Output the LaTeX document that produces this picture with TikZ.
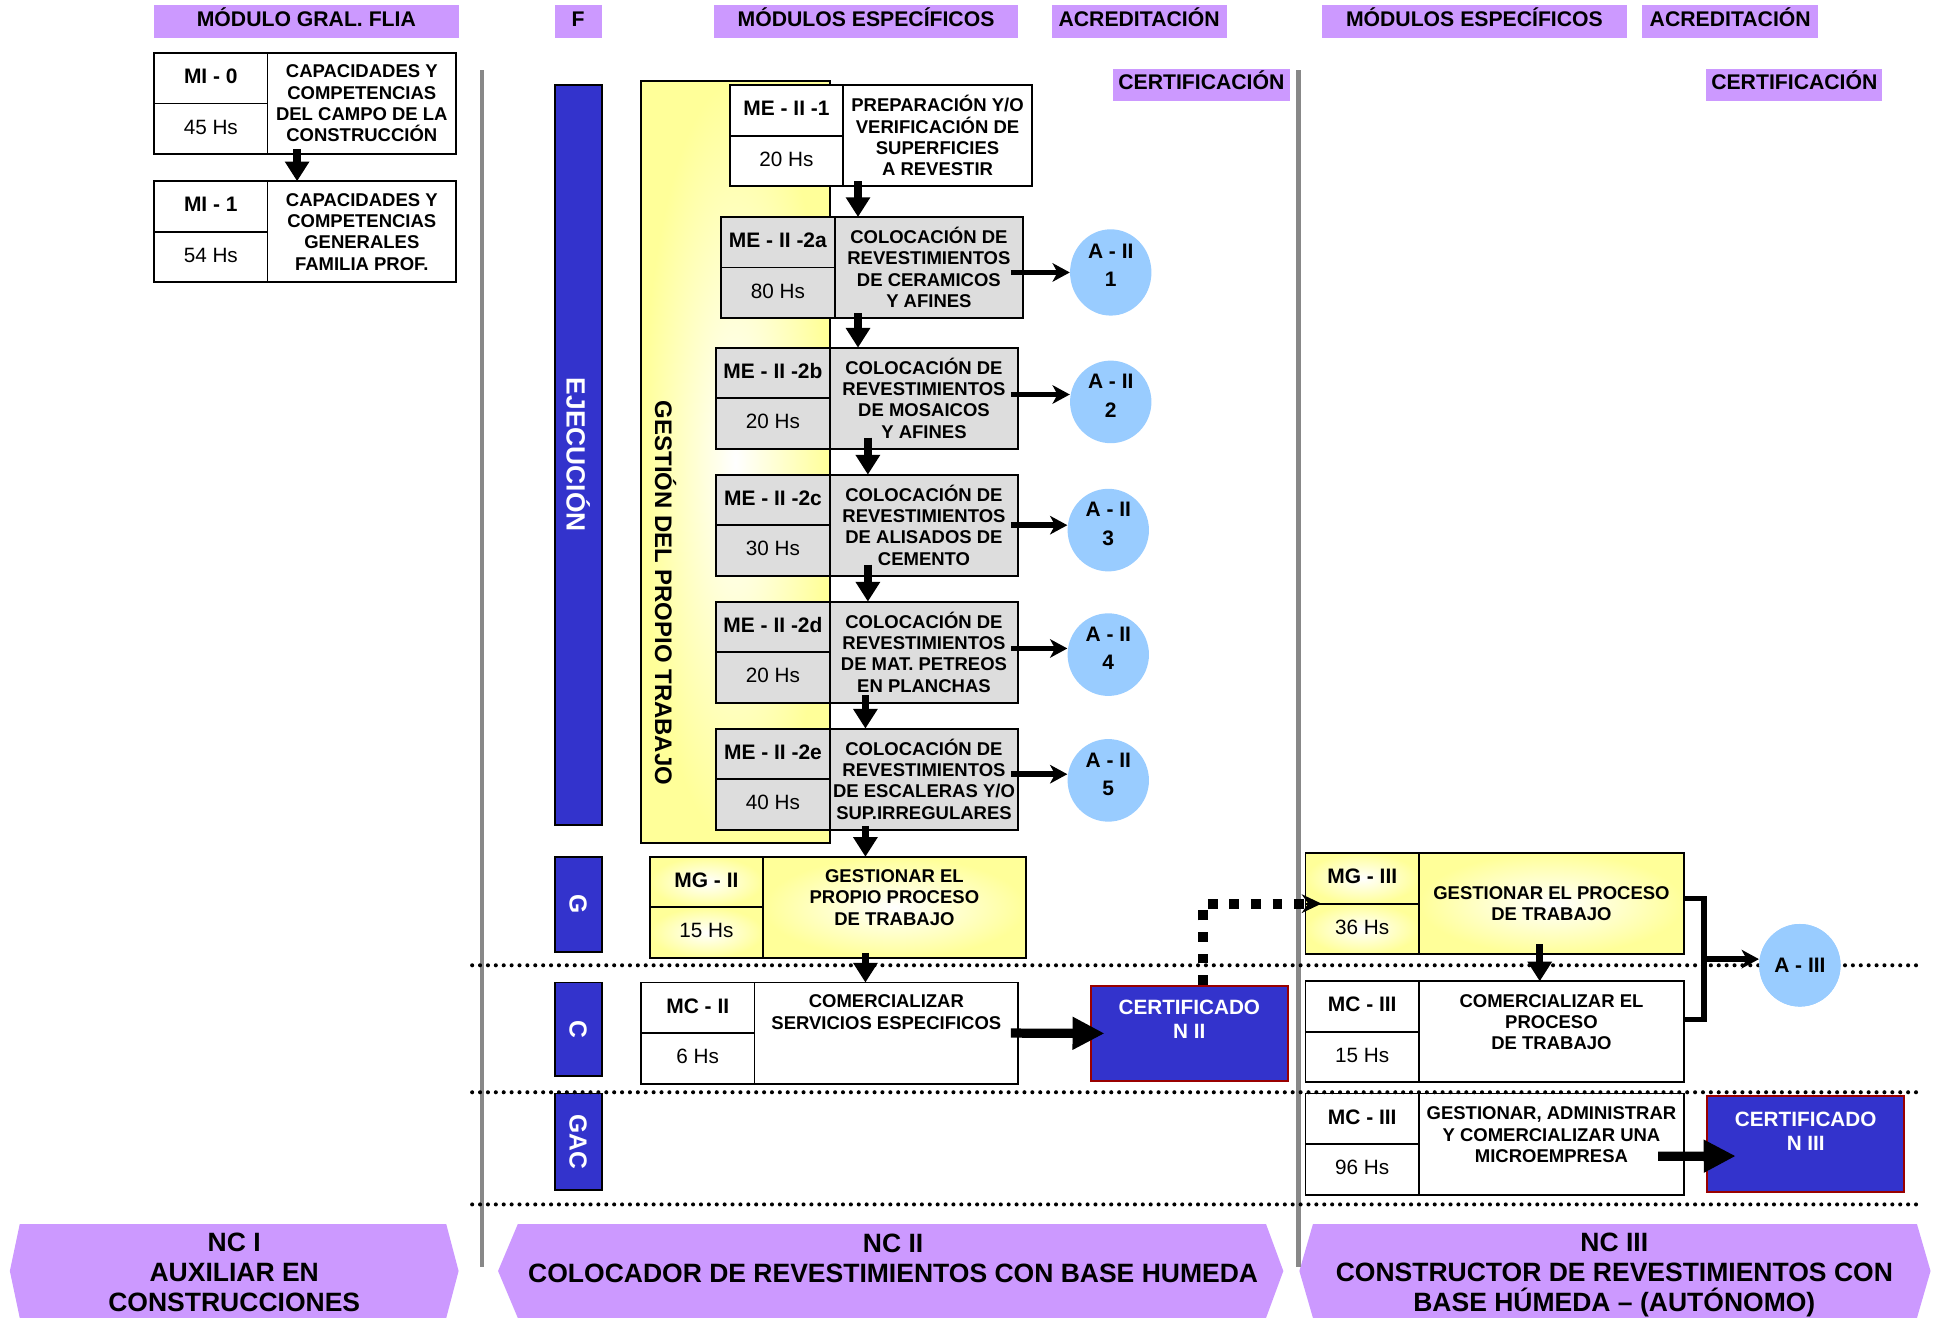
\documentclass[tikz,border=0pt]{standalone}
\usepackage{fontspec}
\setmainfont{Liberation Sans}
\usetikzlibrary{arrows.meta,shapes.geometric,calc}
\definecolor{purp}{HTML}{CC99FF}
\definecolor{bluebar}{HTML}{3333CC}
\definecolor{circblue}{HTML}{99CCFF}
\definecolor{cellgray}{HTML}{DDDDDD}
\definecolor{yel}{HTML}{FFFF99}
\definecolor{divgray}{HTML}{888888}
\definecolor{certred}{HTML}{990000}
\tikzset{
  cell/.style={draw=black, line width=1.5pt, rectangle, inner sep=0pt, outer sep=0pt},
  whitecell/.style={fill=white},
  graycell/.style={fill=cellgray},
  yelcell/.style={inner color=white, outer color=yel},
  codetxt/.style={font=\fontsize{17}{19}\selectfont\bfseries, text height=12.5pt, text depth=4pt},
  hrstxt/.style={font=\fontsize{16.8}{19}\selectfont, text height=12.5pt, text depth=4pt},
  desctxt/.style={font=\fontsize{15}{17.3}\selectfont\bfseries, align=center, inner sep=0pt},
  hdr/.style={fill=purp, inner sep=0pt, minimum height=27pt, text height=12.5pt, text depth=5pt, font=\fontsize{17.2}{19}\selectfont\bfseries},
  bar/.style={draw=black, line width=1.5pt, fill=bluebar, rotate=-90, minimum height=38pt, inner sep=0pt, text=white, font=\fontsize{20}{22}\selectfont\bfseries},
  acirc/.style={ellipse, fill=circblue, inner sep=0pt, minimum width=66pt, minimum height=67pt},
  circtxt/.style={font=\fontsize{17}{23}\selectfont\bfseries, align=center, inner sep=0pt},
  certbox/.style={draw=certred, line width=1.5pt, fill=bluebar, inner sep=0pt, minimum width=160pt, minimum height=77pt, anchor=north west},
  certtxt/.style={text=white, font=\fontsize{16.8}{20}\selectfont\bfseries, align=center, inner sep=0pt},
  bantxt/.style={font=\fontsize{21.5}{24.5}\selectfont\bfseries, align=center, inner sep=0pt},
  varr/.style={line width=6pt, -{Triangle[length=16pt,width=19pt]}},
  harr/.style={line width=4.5pt, -{Stealth[length=14pt,width=15pt,inset=4pt]}},
  carr/.style={line width=7.5pt, -{Triangle[length=26pt,width=25pt]}},
  dotarr/.style={line width=8pt, dash pattern=on 8pt off 9.5pt, -{Stealth[length=16pt,width=15pt]}},
  brk/.style={line width=4.5pt},
  sepdots/.style={line width=3.3pt, line cap=round, dash pattern=on 0pt off 6.4pt},
  divline/.style={line width=4pt, draw=divgray},
}
\newcommand\mymod[9]{%
  \node[cell,#5,codetxt,minimum width=92pt,minimum height=41pt,anchor=north west] (#1c) at (#2,#3) {#6};
  \node[cell,#5,hrstxt,minimum width=92pt,minimum height=41pt,anchor=north west] (#1h) at (#1c.south west) {#7};
  \node[cell,#5,minimum width=#4pt,minimum height=82pt,anchor=north west] (#1) at (#1c.north east) {};
  \node[desctxt,yshift=#9pt] (#1t) at (#1.center) {#8};
}
\begin{document}
\begin{tikzpicture}[x=1pt,y=-1pt]
\useasboundingbox (0,0) rectangle (1568,1069);

% bottom banners
\fill[purp] (16,993) -- (362,993) -- (372,1031) -- (362,1069) -- (16,1069) -- (8,1031) -- cycle;
\fill[purp] (420,993) -- (1027,993) -- (1041,1031) -- (1027,1069) -- (420,1069) -- (404,1031) -- cycle;
\fill[purp] (1065,993) -- (1555,993) -- (1566,1031) -- (1555,1069) -- (1065,1069) -- (1054,1031) -- cycle;
\node[bantxt] (nc1) at (190,1032) {NC I\\AUXILIAR EN\\CONSTRUCCIONES};
\node[bantxt] (nc2) at (724.5,1020.5) {NC II\\COLOCADOR DE REVESTIMIENTOS CON BASE HUMEDA};
\node[bantxt] (nc3) at (1309.5,1034) {NC III\\CONSTRUCTOR DE REVESTIMIENTOS CON\\BASE HÚMEDA – (AUTÓNOMO)};

% divider lines
\draw[divline] (391,57) -- (391,1028);
\draw[divline] (1053,57) -- (1053,1028);

% headers
\node[hdr, minimum width=247pt] (h1) at (248.5,17.5) {MÓDULO GRAL. FLIA};
\node[hdr, minimum width=38pt] (h2) at (469,17.5) {F};
\node[hdr, minimum width=247pt] (h3) at (702.5,17.5) {MÓDULOS ESPECÍFICOS};
\node[hdr, minimum width=142pt] (h4) at (924,17.5) {ACREDITACIÓN};
\node[hdr, minimum width=248pt] (h5) at (1196,17.5) {MÓDULOS ESPECÍFICOS};
\node[hdr, minimum width=143pt] (h6) at (1403.5,17.5) {ACREDITACIÓN};
\node[hdr, minimum width=143pt, minimum height=26pt] (cf1) at (974.5,69) {CERTIFICACIÓN};
\node[hdr, minimum width=143pt, minimum height=26pt] (cf2) at (1455.5,69) {CERTIFICACIÓN};

% side bars
\node[bar, minimum width=600pt, font=\fontsize{21.4}{24}\selectfont\bfseries] (ejec) at (469,369) {EJECUCIÓN};
\node[bar, minimum width=77pt] (gbar) at (469,733.5) {G};
\node[bar, minimum width=76pt] (cbar) at (469,835) {C};
\node[bar, minimum width=78pt] (gacbar) at (469,926) {GAC};

% yellow panel
\node[cell, yelcell, minimum width=153pt, minimum height=618pt, anchor=north west] (panel) at (520,66) {};
\node[rotate=-90, inner sep=0pt, font=\fontsize{19.4}{22}\selectfont\bfseries] (panelt) at (540,481) {GESTIÓN DEL PROPIO TRABAJO};

% modules
\mymod{mi0}{125}{43}{153}{whitecell}{MI - 0}{45 Hs}{CAPACIDADES Y\\COMPETENCIAS\\DEL CAMPO DE LA\\CONSTRUCCIÓN}{0}
\mymod{mi1}{125}{147}{153}{whitecell}{MI - 1}{54 Hs}{CAPACIDADES Y\\COMPETENCIAS\\GENERALES\\FAMILIA PROF.}{0}
\mymod{me1}{592}{69}{153}{whitecell}{ME - II -1}{20 Hs}{PREPARACIÓN Y/O\\VERIFICACIÓN DE\\SUPERFICIES\\A REVESTIR}{0}
\mymod{me2a}{585}{176}{153}{graycell}{ME - II -2a}{80 Hs}{COLOCACIÓN DE\\REVESTIMIENTOS\\DE CERAMICOS\\Y AFINES}{0}
\mymod{me2b}{581}{282}{153}{graycell}{ME - II -2b}{20 Hs}{COLOCACIÓN DE\\REVESTIMIENTOS\\DE MOSAICOS\\Y AFINES}{0}
\mymod{me2c}{581}{385}{153}{graycell}{ME - II -2c}{30 Hs}{COLOCACIÓN DE\\REVESTIMIENTOS\\DE ALISADOS DE\\CEMENTO}{0}
\mymod{me2d}{581}{488}{153}{graycell}{ME - II -2d}{20 Hs}{COLOCACIÓN DE\\REVESTIMIENTOS\\DE MAT. PETREOS\\EN PLANCHAS}{0}
\mymod{me2e}{581}{591}{153}{graycell}{ME - II -2e}{40 Hs}{COLOCACIÓN DE\\REVESTIMIENTOS\\DE ESCALERAS Y/O\\SUP.IRREGULARES}{0}
\mymod{mg2}{527}{695}{213}{yelcell}{MG - II}{15 Hs}{GESTIONAR EL\\PROPIO PROCESO\\DE TRABAJO}{8}
\mymod{mc2}{520}{797}{214}{whitecell}{MC - II}{6 Hs}{COMERCIALIZAR\\SERVICIOS ESPECIFICOS}{17}
\mymod{mg3}{1059}{692}{215}{yelcell}{MG - III}{36 Hs}{GESTIONAR EL PROCESO\\DE TRABAJO}{0}
\mymod{mc3}{1059}{796}{215}{whitecell}{MC - III}{15 Hs}{COMERCIALIZAR EL\\PROCESO\\DE TRABAJO}{8}
\mymod{mc3b}{1059}{887}{215}{whitecell}{MC - III}{96 Hs}{GESTIONAR, ADMINISTRAR\\Y COMERCIALIZAR UNA\\MICROEMPRESA}{7.5}

% certificates
\node[certbox] (cert2) at (884,799) {};
\node[certtxt, yshift=11.5pt] (cert2t) at (cert2.center) {CERTIFICADO\\N II};
\node[certbox, minimum height=78pt] (cert3) at (1384,888) {};
\node[certtxt, yshift=10pt] (cert3t) at (cert3.center) {CERTIFICADO\\N III};

% circles
\node[acirc, minimum height=70pt] (a1) at (901,221) {};
\node[acirc] (a2) at (901,326) {};
\node[acirc] (a3) at (899,430) {};
\node[acirc] (a4) at (899,531) {};
\node[acirc] (a5) at (899,633) {};
\node[acirc] (a3c) at (1460,783) {};

% vertical flow arrows
\draw[varr] ([xshift=24pt,yshift=4pt]mi0.south west) -- ([xshift=24pt]mi0.south west |- mi1.north);
\draw[varr] ([xshift=12pt,yshift=4pt]me1.south west) -- ([xshift=12pt]me1.south west |- me2a.north);
\draw[varr] ([xshift=19pt,yshift=4pt]me2a.south west) -- ([xshift=19pt]me2a.south west |- me2b.north);
\draw[varr] ([xshift=31pt,yshift=9pt]me2b.south west) -- ([xshift=31pt]me2b.south west |- me2c.north);
\draw[varr] ([xshift=31pt,yshift=9pt]me2c.south west) -- ([xshift=31pt]me2c.south west |- me2d.north);
\draw[varr] ([xshift=29pt,yshift=6pt]me2d.south west) -- ([xshift=29pt]me2d.south west |- me2e.north);
\draw[varr] ([xshift=29pt,yshift=3pt]me2e.south west) -- ([xshift=29pt]me2e.south west |- mg2.north);
\draw[varr] ([xshift=83pt,yshift=4pt]mg2.south west) -- ([xshift=83pt]mg2.south west |- mc2.north);
\draw[varr] ([xshift=98pt,yshift=8pt]mg3.south west) -- ([xshift=98pt]mg3.south west |- mc3.north);

% arrows to accreditation circles
\draw[harr] ([xshift=-10pt]me2a.east |- a1.west) -- (a1.west);
\draw[harr] ([xshift=-6pt,yshift=6pt]me2b.east |- a2.west) -- ([yshift=6pt]a2.west);
\draw[harr] ([xshift=-6pt,yshift=4pt]me2c.east |- a3.west) -- ([yshift=4pt]a3.west);
\draw[harr] ([xshift=-6pt,yshift=5pt]me2d.east |- a4.west) -- ([yshift=5pt]a4.west);
\draw[harr] ([xshift=-6pt,yshift=5pt]me2e.east |- a5.west) -- ([yshift=5pt]a5.west);

% arrows to certificates
\draw[carr] ([xshift=-6pt]mc2.east) -- ([xshift=12pt]cert2.west);
\draw[carr] ([xshift=-21pt,yshift=-10pt]mc3b.east) -- ([xshift=24pt,yshift=-10pt]cert3.west);

% dotted connector
\draw[dotarr] ([xshift=11pt]cert2.north) |- ([xshift=13pt]mg3c.south west);

% bracket to A-III
\draw[brk] ([yshift=4pt]mg3.east) -- ++(16,0) |- ([yshift=10pt]mc3.east);
\coordinate (brkpt) at ([xshift=16pt]mg3.east |- a3c.west);
\draw[harr] ([yshift=5pt]brkpt) -- ([yshift=5pt]a3c.west);

% dotted separators
\draw[sepdots] (383,783) -- (1560,783);
\draw[sepdots] (383,886) -- (1560,886);
\draw[sepdots] (383,977) -- (1560,977);

% circles on top of separators
\node[acirc] (a3cover) at (a3c) {};
\node[circtxt, yshift=6pt] (a1t) at (a1) {A - II\\1};
\node[circtxt, yshift=5pt] (a2t) at (a2) {A - II\\2};
\node[circtxt, yshift=5pt] (a3t) at (a3) {A - II\\3};
\node[circtxt, yshift=5pt] (a4t) at (a4) {A - II\\4};
\node[circtxt, yshift=5pt] (a5t) at (a5) {A - II\\5};
\node[circtxt] (a3ct) at (a3c) {A - III};
\end{tikzpicture}
\end{document}
